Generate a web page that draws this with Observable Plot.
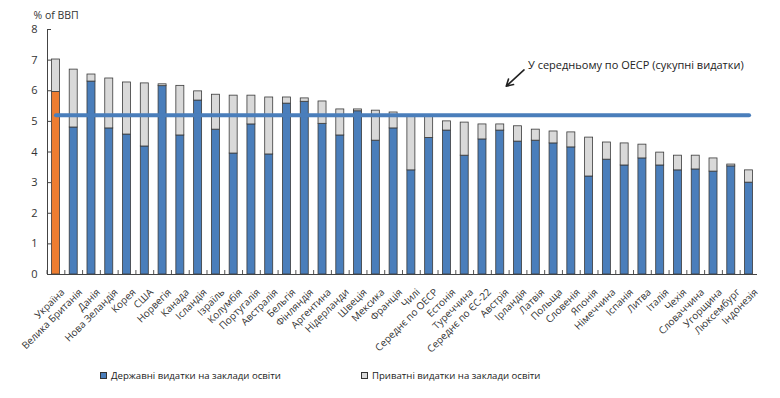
<!DOCTYPE html>
<html><head><meta charset="utf-8">
<script src="https://cdn.jsdelivr.net/npm/d3@7"></script>
<script src="https://cdn.jsdelivr.net/npm/@observablehq/plot@0.6"></script>
<style>
body{margin:0;background:#fff;font-family:"Open Sans",sans-serif;}
#wrap{position:relative;width:780px;height:398px;}
#legend{position:absolute;left:0;top:360px;width:780px;height:38px;font-size:9.6px;color:#222;}
.item{position:absolute;top:9px;display:flex;align-items:center;white-space:nowrap;}
.sw{width:5px;height:5px;border:1px solid #333;margin-right:4px;}
</style></head><body>
<div id="wrap"><div id="chart"></div><div id="legend"></div></div>
<script>
const categories = ["Україна","Велика Британія","Данія","Нова Зеландія","Корея","США","Норвегія","Канада","Ісландія","Ізраїль","Колумбія","Португалія","Австралія","Бельгія","Фінляндія","Аргентина","Нідерланди","Швеція","Мексика","Франція","Чилі","Середнє по ОЕСР","Естонія","Туреччина","Середнє по ЄС-22","Австрія","Ірландія","Латвія","Польща","Словенія","Японія","Німеччина","Іспанія","Литва","Італія","Чехія","Словаччина","Угорщина","Люксембург","Індонезія"];
const publicSpend = [5.96,4.80,6.30,4.77,4.57,4.18,6.15,4.54,5.68,4.73,3.95,4.90,3.92,5.58,5.64,4.92,4.54,5.33,4.37,4.77,3.40,4.46,4.70,3.88,4.41,4.70,4.34,4.37,4.28,4.15,3.20,3.75,3.56,3.79,3.56,3.40,3.43,3.36,3.53,3.00];
const totalSpend = [7.02,6.69,6.53,6.40,6.27,6.24,6.21,6.16,5.98,5.87,5.84,5.84,5.78,5.78,5.75,5.65,5.39,5.39,5.35,5.29,5.20,5.18,5.00,4.96,4.90,4.90,4.84,4.73,4.67,4.64,4.47,4.31,4.28,4.24,3.98,3.88,3.88,3.79,3.59,3.40];
const oecdAverage = 5.2;
const yTicks = [0,1,2,3,4,5,6,7,8];
const highlight = "Україна";
const seriesNames = ["Державні видатки на заклади освіти","Приватні видатки на заклади освіти"];
const annotationText = "У середньому по ОЕСР (сукупні видатки)";
const yLabel = "% of ВВП";

const blue = "#4a7ebb", orange = "#ed7d31", gray = "#d9d9d9", edge = "#3a3a3a", ink = "#333";
const data = categories.map((c, i) => ({country: c, pub: publicSpend[i], total: totalSpend[i]}));

const chart = Plot.plot({
  width: 780, height: 360,
  marginLeft: 47, marginRight: 23, marginTop: 29, marginBottom: 86,
  style: {fontFamily: "Open Sans, sans-serif", fontSize: "10px", color: ink, background: "#fff"},
  x: {domain: categories, paddingInner: 0.55, paddingOuter: 0.25, label: null},
  y: {domain: [0, 8], label: null},
  color: {type: "identity"},
  marks: [
    Plot.barY(data, {x: "country", y1: 0, y2: "pub", fill: d => d.country === highlight ? orange : blue, stroke: edge, strokeWidth: 0.8}),
    Plot.barY(data, {x: "country", y1: "pub", y2: "total", fill: gray, stroke: edge, strokeWidth: 0.8}),
    Plot.lineY(categories, {x: d => d, y: () => oecdAverage, stroke: blue, strokeWidth: 4}),
    Plot.ruleX(categories, {x: d => d, y1: 0, y2: 0.13, dx: -8.9, stroke: "#555"}),
    Plot.ruleY([0], {stroke: "#444"}),
    Plot.frame({anchor: "left", stroke: "#444"}),
    Plot.axisY({ticks: yTicks, tickSize: -4, tickPadding: 14, fontSize: 11, label: null, stroke: "#444"}),
    Plot.axisX({tickSize: 0, tickRotate: -45, tickPadding: 6, dx: 7, dy: 10, label: null, fontSize: 10}),
    Plot.arrow([{from: "Ірландія", to: "Австрія"}], {x1: "from", y1: 6.68, x2: "to", y2: 6.15, dx: 6, stroke: "#222", strokeWidth: 1.6, headLength: 7}),
    Plot.text([{c: "Ірландія", t: annotationText}], {x: "c", y: 6.84, text: "t", textAnchor: "start", dx: 10, fontSize: 11, fill: "#222"}),
    Plot.text([yLabel], {frameAnchor: "top-left", dx: -14, dy: -18, textAnchor: "start", fontSize: 10.5, fill: ink})
  ]
});
document.getElementById("chart").append(chart);

const legend = document.getElementById("legend");
const legendColors = [blue, gray];
const legendLeft = [100, 361];
seriesNames.forEach((name, i) => {
  const it = document.createElement("div");
  it.className = "item";
  it.style.left = legendLeft[i] + "px";
  it.innerHTML = `<span class="sw" style="background:${legendColors[i]}"></span><span>${name}</span>`;
  legend.append(it);
});
</script>
</body></html>
